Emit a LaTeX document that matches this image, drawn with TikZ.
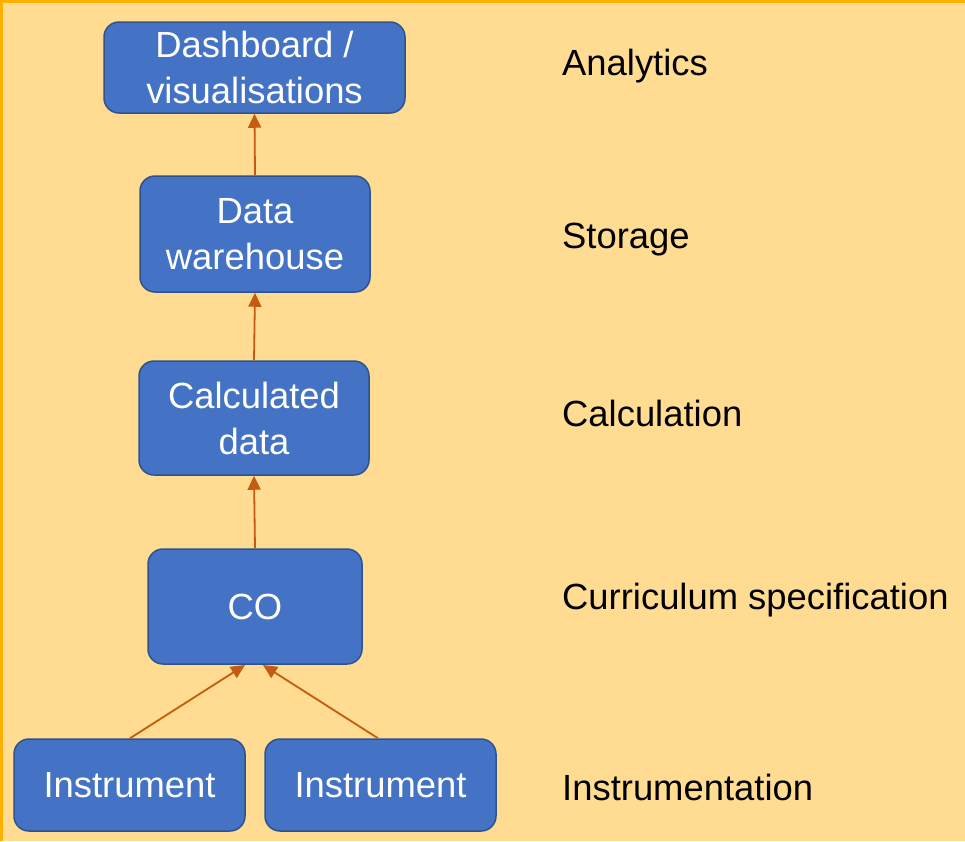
\documentclass[tikz,border=0pt]{standalone}
\usepackage{fontspec}
\setmainfont{Liberation Sans}
\usetikzlibrary{arrows.meta}
\definecolor{bgc}{HTML}{FFDC91}
\definecolor{edgec}{HTML}{FFB000}
\definecolor{boxc}{HTML}{4472C4}
\definecolor{boxline}{HTML}{2F528F}
\definecolor{arrc}{HTML}{C55A11}
\begin{document}
\begin{tikzpicture}[x=1pt,y=-1pt,
  box/.style={draw=boxline, line width=1.5pt, fill=boxc, rounded corners=15pt, text=white,
    align=center, inner sep=0pt, font=\fontsize{36.4}{46}\selectfont},
  lab/.style={anchor=west, inner sep=0pt, font=\fontsize{36.4}{46}\selectfont, text=black},
  conn/.style={draw=arrc, line width=1.8pt, -{Triangle[length=14pt,width=13pt]}}]
\useasboundingbox (0,0) rectangle (965,841);
\fill[bgc] (0,0) rectangle (965,841);
\fill[edgec] (0,0) rectangle (965,3);
\fill[edgec] (0,0) rectangle (3,841);
\node[box, minimum width=301pt, minimum height=91pt] (dash) at (254.5,67.5) {Dashboard /\\visualisations};
\node[box, minimum width=230pt, minimum height=116pt] (dw) at (255,234) {Data\\warehouse};
\node[box, minimum width=230pt, minimum height=114pt] (calc) at (254,418) {Calculated\\data};
\node[box, minimum width=214pt, minimum height=115pt] (co) at (255,606.5) {CO};
\node[box, minimum width=231pt, minimum height=92pt] (in1) at (129.5,785) {Instrument};
\node[box, minimum width=231pt, minimum height=92pt] (in2) at (380.5,785) {Instrument};
\coordinate (coL) at (245,665);
\coordinate (coR) at (263,665);
\draw[conn] (dw.north) -- (dash.south);
\draw[conn] (calc.north) -- (dw.south);
\draw[conn] (co.north) -- (calc.south);
\draw[conn] (in1.north -| 130,0) -- (coL);
\draw[conn] (in2.north -| 378,0) -- (coR);
\node[lab] (l1) at (562,66) {Analytics};
\node[lab] (l2) at (562,240) {Storage};
\node[lab] (l3) at (562,413) {Calculation};
\node[lab] (l4) at (562,600) {Curriculum specification};
\node[lab] (l5) at (562,787) {Instrumentation};
\end{tikzpicture}
\end{document}
